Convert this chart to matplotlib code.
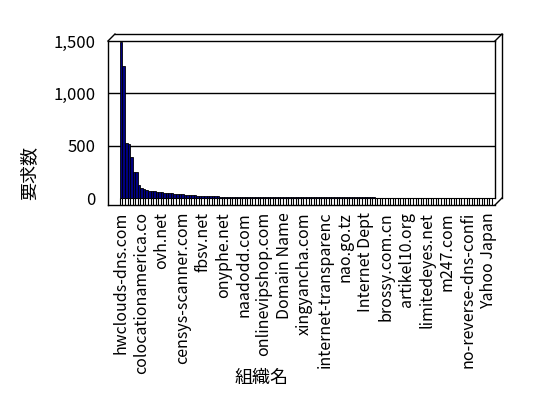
import matplotlib
matplotlib.use("Agg")
import matplotlib.pyplot as plt
import numpy as np

plt.rcParams['font.family'] = ['Noto Sans CJK JP', 'DejaVu Sans']

# request counts per organisation (sorted)
counts = [1490, 1265, 525, 520, 395, 252, 248, 124, 100, 86,
          76, 70, 66, 64, 62, 60, 55, 50, 48, 46,
          44, 42, 40, 38, 36, 33, 31, 29, 27, 25,
          22, 20, 19, 18, 17, 16, 16, 15, 15, 14,
          12, 12, 11, 11, 11, 10, 10, 10, 10, 10,
          9, 9, 9, 9, 9, 9, 9, 9, 8, 8,
          8, 8, 8, 8, 8, 8, 8, 7, 7, 7,
          7, 7, 7, 7, 7, 7, 7, 7, 6, 6,
          6, 6, 6, 6, 6, 6, 6, 6, 6, 6,
          5, 5, 5, 5, 5, 5, 5, 5, 5, 5,
          3, 3, 3, 3, 3, 3, 3, 3, 3, 3,
          2, 2, 2, 2, 2, 2, 2, 2, 2, 2,
          2, 2, 2, 2, 2, 1, 1, 1, 1, 1,
          1, 1, 1, 1, 1, 1, 1, 1, 1, 1,
          1, 1, 1, 1, 1, 1]

# only every 8th organisation name is shown on the axis
shown_labels = ["hwclouds-dns.com", "colocationamerica.co", "ovh.net",
                "censys-scanner.com", "fbsv.net", "onyphe.net", "naadodd.com",
                "onlinevipshop.com", "Domain Name", "xingyancha.com",
                "internet-transparenc", "nao.go.tz", "Internet Dept",
                "brossy.com.cn", "artikel10.org", "limitedeyes.net",
                "m247.com", "no-reverse-dns-confi", "Yahoo Japan"]
label_step = 8
y_ticks = [0, 500, 1000, 1500]
y_ticklabels = ["0", "500", "1,000", "1,500"]

n = len(counts)
x = np.arange(n)

fig = plt.figure(figsize=(5.48, 3.98), dpi=100)
ax = fig.add_axes([108 / 548, (398 - 205) / 398, 387 / 548, 164 / 398])

# 3D-ish frame geometry (Excel style)
px_x = 2.56                  # pixels per category
px_y = 157.3 / 1500          # pixels per unit
xL, xR = -0.5 - 12 / px_x, n - 0.5 + 3 / px_x
yB, yT = -7 / px_y, 1500
dx, dy = 7 / px_x, 7 / px_y

ax.set_xlim(xL, xR)
ax.set_ylim(yB, yT)

for g in [500, 1000]:
    ax.axhline(g, color='black', lw=1)

ax.bar(x, counts, width=1.0, color='#000080', edgecolor='black', linewidth=0.6,
       zorder=3)

# floor with category ticks
ax.vlines(np.arange(n + 1) - 0.5, yB, 0, color='black', lw=0.8)
ax.hlines(0, -0.5, xR, color='black', lw=0.8)

# back edges of the box
kw = dict(color='black', lw=1, clip_on=False)
ax.plot([xL, xL + dx], [yT, yT + dy], **kw)
ax.plot([xL + dx, xR + dx], [yT + dy, yT + dy], **kw)
ax.plot([xR, xR + dx], [yT, yT + dy], **kw)
ax.plot([xR + dx, xR + dx], [yT + dy, yB + dy], **kw)
ax.plot([xR, xR + dx], [yB, yB + dy], **kw)
ax.plot([xR, xR], [0, yT], **kw)

for side in ['left', 'top', 'bottom']:
    ax.spines[side].set_linewidth(1)
ax.spines['right'].set_visible(False)

ax.set_xticks(x[::label_step])
ax.set_xticklabels(shown_labels, rotation=90, fontsize=11.5)
ax.set_yticks(y_ticks)
ax.set_yticklabels(y_ticklabels, fontsize=12)
ax.tick_params(axis='both', length=0)
ax.tick_params(axis='x', pad=5)
ax.tick_params(axis='y', pad=9)

ax.set_xlabel("組織名", fontsize=13)
ax.xaxis.set_label_coords((262 - 108) / 387, (205 - 369) / 164)
ax.set_ylabel("要求数", fontsize=13)
ax.yaxis.set_label_coords((38 - 108) / 387, (205 - 173) / 164)

plt.savefig("out.png", dpi=100)
